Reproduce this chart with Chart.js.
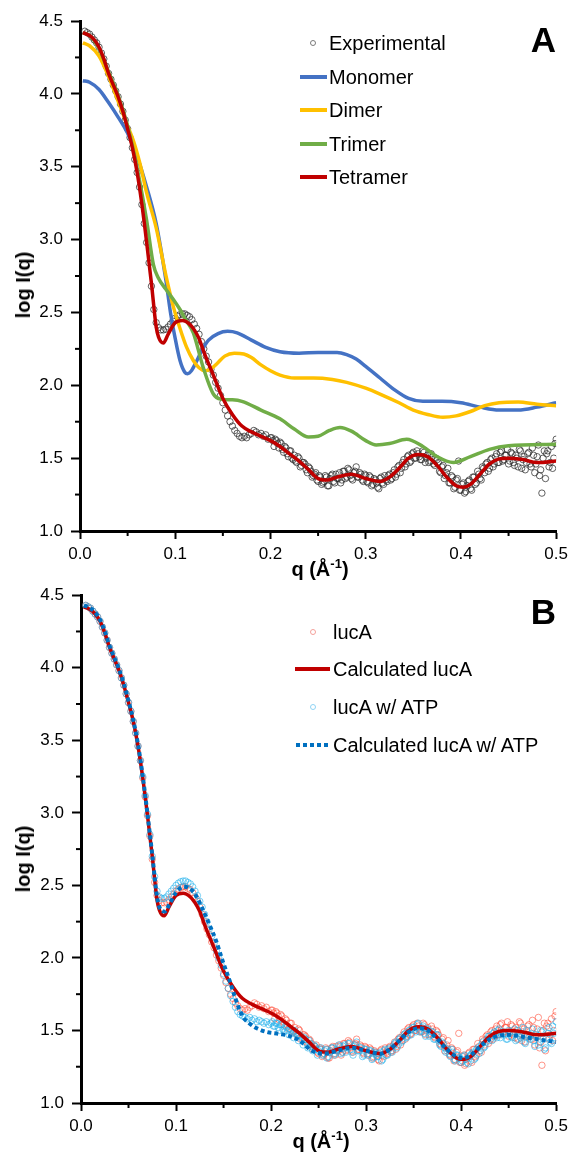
<!DOCTYPE html>
<html><head><meta charset="utf-8">
<script src="https://cdn.jsdelivr.net/npm/chart.js@4.4.1/dist/chart.umd.min.js"></script>
<style>
html,body{margin:0;padding:0;background:#fff;}
body{width:573px;height:1154px;position:relative;overflow:hidden;font-family:"Liberation Sans",Arial,sans-serif;color:#000;}
.pane{position:absolute;left:0;width:573px;height:577px;}
.lab{position:absolute;white-space:nowrap;font-size:20px;line-height:24px;height:24px;}
.ln{position:absolute;height:4px;}
.mk{position:absolute;width:4px;height:4px;border-radius:50%;border:1px solid #888;}
.ttl{position:absolute;font-weight:bold;font-size:20px;line-height:24px;white-space:nowrap;transform:translate(-50%,-50%);}
.rot{transform:translate(-50%,-50%) rotate(-90deg);}
.panel{position:absolute;right:17px;font-weight:bold;font-size:35px;line-height:35px;}
.sup{font-size:13px;position:relative;top:-8px;}
</style></head><body>
<div class="pane" style="top:0"><canvas id="cA" width="573" height="577"></canvas></div>
<div class="pane" style="top:577px"><canvas id="cB" width="573" height="577"></canvas></div>

<!-- Panel A legend -->
<div class="mk" style="left:310px;top:40px;border-color:#7a7a7a"></div>
<div class="lab" style="left:329px;top:31px">Experimental</div>
<div class="ln" style="left:300px;width:27px;top:75px;background:#4472C4"></div>
<div class="lab" style="left:329px;top:65px">Monomer</div>
<div class="ln" style="left:300px;width:27px;top:108px;background:#FFC000"></div>
<div class="lab" style="left:329px;top:98px">Dimer</div>
<div class="ln" style="left:300px;width:27px;top:142px;background:#70AD47"></div>
<div class="lab" style="left:329px;top:132px">Trimer</div>
<div class="ln" style="left:300px;width:27px;top:175px;background:#C00000"></div>
<div class="lab" style="left:329px;top:165px">Tetramer</div>
<div class="panel" style="top:22px">A</div>

<!-- Panel B legend -->
<div class="mk" style="left:310px;top:629px;border-color:#F4A09A"></div>
<div class="lab" style="left:333px;top:620px">lucA</div>
<div class="ln" style="left:295px;width:35px;top:667px;background:#C00000"></div>
<div class="lab" style="left:333px;top:657px">Calculated lucA</div>
<div class="mk" style="left:310px;top:704px;border-color:#8FD3F4"></div>
<div class="lab" style="left:333px;top:695px">lucA w/ ATP</div>
<div class="ln" style="left:296px;width:33px;top:743px;background:repeating-linear-gradient(to right,#0070C0 0 4px,transparent 4px 7px)"></div>
<div class="lab" style="left:333px;top:733px">Calculated lucA w/ ATP</div>
<div class="panel" style="top:594px">B</div>

<!-- Axis titles -->
<div class="ttl rot" style="left:23px;top:285px">log I(q)</div>
<div class="ttl" style="left:320px;top:570px">q (Å<span class="sup">-1</span>)</div>
<div class="ttl rot" style="left:23px;top:859px">log I(q)</div>
<div class="ttl" style="left:321px;top:1142px">q (Å<span class="sup">-1</span>)</div>

<script>
// ---------- DATA ----------
const expQ = [
0.005,0.0075,0.01,0.0125,0.015,0.0175,0.02,0.0225,0.025,0.0275,
0.03,0.0325,0.035,0.0375,0.04,0.0425,0.045,0.0475,0.05,0.0525,
0.055,0.0575,0.06,0.0625,0.065,0.0675,0.07,0.0725,0.075,0.0775,
0.08,0.0825,0.085,0.0875,0.09,0.0925,0.095,0.0975,0.1,0.1025,
0.105,0.1075,0.11,0.1125,0.115,0.1175,0.12,0.1225,0.125,0.1275,
0.13,0.1325,0.135,0.1375,0.14,0.1425,0.145,0.1475,0.15,0.1525,
0.155,0.1575,0.16,0.1625,0.165,0.1675,0.17,0.1725,0.175,0.1775,
0.18,0.1825,0.185,0.1875,0.19,0.1925,0.195,0.1975,0.2,0.2025,
0.205,0.2075,0.21,0.2125,0.215,0.2175,0.22,0.2225,0.225,0.2275,
0.23,0.2325,0.235,0.2375,0.24,0.2425,0.245,0.2475,0.25,0.2525,
0.255,0.2575,0.26,0.2625,0.265,0.2675,0.27,0.2725,0.275,0.2775,
0.28,0.2825,0.285,0.2875,0.29,0.2925,0.295,0.2975,0.3,0.3025,
0.305,0.3075,0.31,0.3125,0.315,0.3175,0.32,0.3225,0.325,0.3275,
0.33,0.3325,0.335,0.3375,0.34,0.3425,0.345,0.3475,0.35,0.3525,
0.355,0.3575,0.36,0.3625,0.365,0.3675,0.37,0.3725,0.375,0.3775,
0.38,0.3825,0.385,0.3875,0.39,0.3925,0.395,0.3975,0.4,0.4025,
0.405,0.4075,0.41,0.4125,0.415,0.4175,0.42,0.4225,0.425,0.4275,
0.43,0.4325,0.435,0.4375,0.44,0.4425,0.445,0.4475,0.45,0.4525,
0.455,0.4575,0.46,0.4625,0.465,0.4675,0.47,0.4725,0.475,0.4775,
0.48,0.4825,0.485,0.4875,0.49,0.4925,0.495,0.4975,0.5];

// Experimental (= lucA) log I(q)
const expLogI = [
4.43,4.42,4.41,4.39,4.37,4.35,4.32,4.28,4.24,4.19,
4.14,4.10,4.06,4.02,3.98,3.93,3.88,3.82,3.76,3.70,
3.63,3.55,3.46,3.36,3.24,3.11,2.98,2.84,2.68,2.52,
2.43,2.395,2.38,2.38,2.385,2.40,2.42,2.44,2.46,2.475,
2.485,2.49,2.49,2.48,2.47,2.45,2.42,2.39,2.35,2.30,
2.25,2.20,2.16,2.11,2.07,2.02,1.98,1.93,1.88,1.83,
1.79,1.75,1.72,1.69,1.67,1.65,1.64,1.65,1.64,1.66,
1.67,1.69,1.68,1.66,1.67,1.65,1.66,1.63,1.64,1.62,
1.63,1.60,1.61,1.56,1.58,1.53,1.55,1.50,1.52,1.47,
1.50,1.45,1.47,1.42,1.44,1.41,1.38,1.40,1.34,1.37,
1.33,1.38,1.31,1.36,1.39,1.33,1.36,1.40,1.35,1.41,
1.37,1.42,1.36,1.40,1.44,1.37,1.39,1.34,1.38,1.33,
1.37,1.32,1.35,1.30,1.36,1.33,1.38,1.34,1.39,1.36,
1.42,1.39,1.45,1.43,1.49,1.46,1.52,1.48,1.54,1.50,
1.53,1.49,1.55,1.47,1.52,1.48,1.51,1.45,1.49,1.41,
1.44,1.36,1.40,1.33,1.38,1.29,1.35,1.48,1.28,1.33,
1.27,1.34,1.29,1.37,1.32,1.41,1.36,1.44,1.40,1.47,
1.43,1.50,1.46,1.53,1.47,1.55,1.49,1.52,1.46,1.54,
1.47,1.52,1.44,1.55,1.49,1.42,1.53,1.46,1.57,1.40,
1.51,1.38,1.26,1.55,1.53,1.44,1.58,1.50,1.63];

// lucA w/ ATP log I(q)
const atpLogI = [
4.43,4.42,4.41,4.39,4.37,4.35,4.32,4.28,4.24,4.19,
4.14,4.10,4.06,4.02,3.98,3.93,3.88,3.82,3.76,3.70,
3.63,3.55,3.46,3.36,3.25,3.12,2.99,2.85,2.70,2.56,
2.46,2.42,2.41,2.41,2.42,2.44,2.46,2.48,2.50,2.515,
2.525,2.53,2.53,2.52,2.51,2.49,2.46,2.43,2.39,2.35,
2.30,2.25,2.20,2.15,2.10,2.05,2.00,1.95,1.89,1.84,
1.79,1.74,1.70,1.66,1.63,1.61,1.60,1.59,1.58,1.59,
1.57,1.58,1.56,1.57,1.56,1.55,1.56,1.54,1.55,1.53,
1.55,1.52,1.54,1.51,1.53,1.50,1.51,1.48,1.50,1.46,
1.47,1.44,1.45,1.41,1.43,1.39,1.40,1.37,1.36,1.38,
1.34,1.37,1.32,1.36,1.38,1.34,1.37,1.39,1.35,1.40,
1.38,1.41,1.35,1.39,1.42,1.36,1.38,1.33,1.37,1.34,
1.36,1.31,1.34,1.32,1.35,1.30,1.37,1.33,1.38,1.35,
1.41,1.38,1.44,1.42,1.47,1.45,1.50,1.47,1.52,1.49,
1.55,1.50,1.53,1.46,1.51,1.47,1.49,1.44,1.47,1.40,
1.42,1.38,1.36,1.34,1.37,1.30,1.33,1.31,1.28,1.32,
1.30,1.27,1.33,1.35,1.31,1.38,1.36,1.42,1.39,1.44,
1.46,1.43,1.49,1.45,1.51,1.47,1.48,1.44,1.50,1.46,
1.48,1.43,1.50,1.45,1.52,1.41,1.47,1.44,1.51,1.39,
1.46,1.42,1.49,1.37,1.45,1.52,1.41,1.48,1.56];

// Extra interleaved measurement points at high q (denser cloud)
const expQ2 = [
0.20125,0.20375,0.20625,0.20875,0.21125,0.21375,0.21625,0.21875,0.22125,0.22375,
0.22625,0.22875,0.23125,0.23375,0.23625,0.23875,0.24125,0.24375,0.24625,0.24875,
0.25125,0.25375,0.25625,0.25875,0.26125,0.26375,0.26625,0.26875,0.27125,0.27375,
0.27625,0.27875,0.28125,0.28375,0.28625,0.28875,0.29125,0.29375,0.29625,0.29875,
0.30125,0.30375,0.30625,0.30875,0.31125,0.31375,0.31625,0.31875,0.32125,0.32375,
0.32625,0.32875,0.33125,0.33375,0.33625,0.33875,0.34125,0.34375,0.34625,0.34875,
0.35125,0.35375,0.35625,0.35875,0.36125,0.36375,0.36625,0.36875,0.37125,0.37375,
0.37625,0.37875,0.38125,0.38375,0.38625,0.38875,0.39125,0.39375,0.39625,0.39875,
0.40125,0.40375,0.40625,0.40875,0.41125,0.41375,0.41625,0.41875,0.42125,0.42375,
0.42625,0.42875,0.43125,0.43375,0.43625,0.43875,0.44125,0.44375,0.44625,0.44875,
0.45125,0.45375,0.45625,0.45875,0.46125,0.46375,0.46625,0.46875,0.47125,0.47375,
0.47625,0.47875,0.48125,0.48375,0.48625,0.48875,0.49125,0.49375,0.49625,0.49875];
const expLogI2 = [
1.64,1.58,1.62,1.57,1.60,1.54,1.57,1.51,1.55,1.49,
1.48,1.51,1.44,1.47,1.46,1.40,1.43,1.37,1.39,1.35,
1.38,1.32,1.34,1.37,1.31,1.38,1.34,1.39,1.36,1.33,
1.41,1.36,1.43,1.38,1.35,1.41,1.37,1.40,1.35,1.39,
1.34,1.38,1.31,1.36,1.33,1.29,1.37,1.32,1.35,1.38,
1.35,1.40,1.37,1.44,1.40,1.47,1.44,1.51,1.47,1.53,
1.50,1.55,1.51,1.49,1.54,1.50,1.47,1.53,1.46,1.50,
1.47,1.40,1.45,1.38,1.43,1.33,1.37,1.30,1.36,1.28,
1.32,1.26,1.31,1.35,1.28,1.37,1.33,1.39,1.35,1.43,
1.46,1.41,1.49,1.44,1.51,1.47,1.54,1.48,1.52,1.56,
1.48,1.53,1.45,1.50,1.56,1.43,1.51,1.47,1.54,1.44,
1.52,1.46,1.59,1.42,1.50,1.36,1.55,1.47,1.43,1.60];
const atpLogI2 = [
1.56,1.53,1.55,1.50,1.54,1.49,1.52,1.47,1.50,1.45,
1.48,1.43,1.46,1.40,1.44,1.38,1.41,1.36,1.39,1.33,
1.37,1.33,1.36,1.31,1.35,1.38,1.33,1.36,1.40,1.34,
1.39,1.35,1.41,1.37,1.33,1.40,1.36,1.38,1.32,1.37,
1.33,1.36,1.30,1.35,1.32,1.34,1.29,1.36,1.33,1.37,
1.36,1.39,1.42,1.40,1.45,1.43,1.48,1.46,1.50,1.52,
1.51,1.54,1.49,1.52,1.48,1.51,1.46,1.49,1.44,1.47,
1.43,1.39,1.41,1.35,1.37,1.32,1.35,1.29,1.33,1.31,
1.29,1.33,1.28,1.32,1.34,1.30,1.37,1.34,1.40,1.38,
1.42,1.46,1.44,1.48,1.46,1.50,1.45,1.49,1.47,1.44,
1.49,1.45,1.51,1.44,1.48,1.46,1.42,1.50,1.45,1.48,
1.43,1.47,1.40,1.50,1.44,1.38,1.48,1.42,1.53,1.45];

// Tetramer (= Calculated lucA)
const tetQ = [0.003,0.01,0.015,0.02,0.025,0.03,0.035,0.04,0.045,0.05,0.055,0.06,0.065,0.07,0.075,0.08,0.0825,0.0875,0.0925,0.1,0.1075,0.115,0.12,0.125,0.13,0.14,0.15,0.16,0.17,0.18,0.19,0.2,0.21,0.22,0.23,0.24,0.25,0.26,0.27,0.285,0.3,0.315,0.325,0.335,0.345,0.355,0.365,0.375,0.385,0.395,0.4025,0.41,0.42,0.43,0.44,0.45,0.465,0.48,0.5];
const tetLogI = [4.42,4.40,4.37,4.32,4.24,4.14,4.06,3.98,3.88,3.76,3.63,3.46,3.24,2.98,2.70,2.40,2.33,2.29,2.35,2.43,2.445,2.42,2.38,2.32,2.23,2.07,1.91,1.80,1.72,1.68,1.65,1.62,1.58,1.53,1.48,1.42,1.36,1.35,1.37,1.39,1.36,1.34,1.37,1.43,1.50,1.525,1.51,1.45,1.37,1.31,1.30,1.32,1.39,1.46,1.495,1.50,1.49,1.47,1.48];

const monoQ = [0.003,0.01,0.02,0.03,0.04,0.05,0.06,0.07,0.08,0.09,0.095,0.1,0.105,0.11,0.113,0.117,0.122,0.128,0.135,0.145,0.155,0.165,0.18,0.195,0.21,0.23,0.25,0.27,0.28,0.29,0.3,0.315,0.33,0.345,0.36,0.38,0.4,0.42,0.44,0.46,0.48,0.5];
const monoLogI = [4.09,4.08,4.03,3.94,3.84,3.73,3.57,3.36,3.11,2.73,2.50,2.32,2.17,2.09,2.08,2.10,2.16,2.24,2.31,2.355,2.37,2.36,2.31,2.26,2.23,2.22,2.225,2.225,2.21,2.18,2.13,2.05,1.97,1.91,1.89,1.89,1.88,1.85,1.83,1.83,1.85,1.88];

const dimQ = [0.003,0.01,0.02,0.03,0.04,0.05,0.056,0.063,0.07,0.08,0.09,0.098,0.105,0.112,0.119,0.125,0.131,0.137,0.144,0.152,0.162,0.172,0.18,0.19,0.2,0.21,0.225,0.245,0.265,0.28,0.3,0.315,0.335,0.35,0.365,0.381,0.395,0.41,0.425,0.44,0.46,0.48,0.5];
const dimLogI = [4.35,4.33,4.26,4.12,3.95,3.78,3.68,3.52,3.32,3.08,2.76,2.54,2.39,2.26,2.17,2.12,2.10,2.11,2.15,2.20,2.22,2.215,2.19,2.14,2.10,2.07,2.05,2.05,2.04,2.02,1.98,1.94,1.88,1.83,1.80,1.78,1.79,1.82,1.86,1.88,1.885,1.87,1.86];

const triQ = [0.003,0.01,0.02,0.03,0.04,0.05,0.06,0.07,0.077,0.082,0.09,0.1,0.105,0.11,0.119,0.129,0.14,0.148,0.16,0.17,0.19,0.21,0.225,0.24,0.25,0.262,0.273,0.285,0.3,0.311,0.325,0.343,0.36,0.375,0.392,0.41,0.43,0.45,0.5];
const triLogI = [4.42,4.40,4.31,4.15,3.99,3.78,3.49,3.13,2.83,2.74,2.66,2.57,2.52,2.46,2.36,2.13,1.94,1.905,1.90,1.89,1.83,1.77,1.70,1.645,1.65,1.69,1.71,1.685,1.62,1.59,1.60,1.63,1.58,1.51,1.47,1.51,1.56,1.585,1.595];

// Calculated lucA w/ ATP
const calcAtpQ = [0.003,0.01,0.015,0.02,0.025,0.03,0.035,0.04,0.045,0.05,0.055,0.06,0.065,0.07,0.075,0.08,0.0825,0.088,0.093,0.1,0.108,0.114,0.12,0.127,0.135,0.142,0.149,0.156,0.162,0.167,0.172,0.177,0.185,0.195,0.21,0.22,0.23,0.243,0.255,0.27,0.285,0.3,0.315,0.325,0.335,0.345,0.355,0.365,0.375,0.385,0.395,0.403,0.41,0.42,0.43,0.44,0.45,0.47,0.5];
const calcAtpLogI = [4.43,4.41,4.38,4.33,4.25,4.15,4.07,3.99,3.89,3.77,3.64,3.47,3.25,2.99,2.71,2.42,2.35,2.32,2.37,2.45,2.49,2.48,2.44,2.35,2.23,2.12,1.98,1.85,1.73,1.64,1.58,1.55,1.515,1.49,1.475,1.46,1.43,1.36,1.34,1.36,1.38,1.36,1.34,1.37,1.43,1.49,1.515,1.50,1.44,1.37,1.32,1.31,1.33,1.39,1.44,1.465,1.47,1.45,1.42];

const xTicks = [0.0,0.1,0.2,0.3,0.4,0.5];
const xMinor = [0.05,0.15,0.25,0.35,0.45];
const yMinor = [1.25,1.75,2.25,2.75,3.25,3.75,4.25];

// ---------- CHARTS ----------
const FONT = '"Liberation Sans", Arial, sans-serif';
function pts(qs, vs){ return qs.map((q,i)=>({x:q, y:vs[i]})); }

const minorTicks = {
  id:'minorTicks',
  afterDraw(chart){
    const {ctx, chartArea:a, scales:{x,y}} = chart;
    ctx.save(); ctx.strokeStyle='#000'; ctx.lineWidth=2;
    xMinor.forEach(v=>{const p=x.getPixelForValue(v); ctx.beginPath(); ctx.moveTo(p,a.bottom); ctx.lineTo(p,a.bottom+5); ctx.stroke();});
    yMinor.forEach(v=>{const p=y.getPixelForValue(v); ctx.beginPath(); ctx.moveTo(a.left,p); ctx.lineTo(a.left-5,p); ctx.stroke();});
    ctx.restore();
  }
};

function lineDs(qs, vs, color, order, extra){
  return Object.assign({data:pts(qs,vs), showLine:true, borderColor:color, borderWidth:3.5,
    pointRadius:0, cubicInterpolationMode:'monotone', fill:false, order:order}, extra||{});
}
function ptDs(qs, vs, color, order){
  return {data:pts(qs,vs), showLine:false, pointRadius:3.2, pointBorderWidth:1,
    pointBorderColor:color, pointBackgroundColor:'rgba(0,0,0,0)', order:order};
}

function makeOpts(yWidth, xHeight, pad){
  return {
    responsive:false, animation:false, events:[],
    layout:{padding:pad},
    plugins:{legend:{display:false}, tooltip:{enabled:false}},
    scales:{
      x:{type:'linear', min:0, max:0.5,
        afterBuildTicks:s=>{s.ticks = xTicks.map(v=>({value:v}));},
        ticks:{callback:v=>Number(v).toFixed(1), font:{size:17, family:FONT}, color:'#000', padding:5, maxRotation:0, autoSkip:false},
        grid:{display:true, drawOnChartArea:false, drawTicks:true, tickLength:8, tickWidth:2, tickColor:'#000'},
        border:{display:true, width:3, color:'#000'},
        afterFit:s=>{s.height = xHeight;}
      },
      y:{type:'linear', min:1, max:4.5,
        ticks:{stepSize:0.5, callback:v=>Number(v).toFixed(1), font:{size:17, family:FONT}, color:'#000', padding:8},
        grid:{display:true, drawOnChartArea:false, drawTicks:true, tickLength:9, tickWidth:2, tickColor:'#000'},
        border:{display:true, width:3, color:'#000'},
        afterFit:s=>{s.width = yWidth;}
      }
    }
  };
}

const allQ = expQ.concat(expQ2);
const allExp = expLogI.concat(expLogI2);
const allAtp = atpLogI.concat(atpLogI2);

new Chart(document.getElementById('cA'), {
  type:'scatter',
  data:{datasets:[
    ptDs(allQ, allExp, 'rgba(45,45,45,0.75)', 6),
    lineDs(monoQ, monoLogI, '#4472C4', 5),
    lineDs(dimQ, dimLogI, '#FFC000', 4),
    lineDs(triQ, triLogI, '#70AD47', 3),
    lineDs(tetQ, tetLogI, '#C00000', 2)
  ]},
  options:makeOpts(80, 46, {top:21, right:16, left:0, bottom:0}),
  plugins:[minorTicks]
});

new Chart(document.getElementById('cB'), {
  type:'scatter',
  data:{datasets:[
    ptDs(allQ, allExp, 'rgba(255,80,60,0.6)', 6),
    ptDs(allQ, allAtp, 'rgba(30,175,235,0.6)', 5),
    lineDs(tetQ, tetLogI, '#C00000', 3),
    lineDs(calcAtpQ, calcAtpLogI, '#0070C0', 2, {borderWidth:4, borderDash:[4,3]})
  ]},
  options:makeOpts(81, 51, {top:17, right:15, left:0, bottom:0}),
  plugins:[minorTicks]
});
</script>
</body></html>
